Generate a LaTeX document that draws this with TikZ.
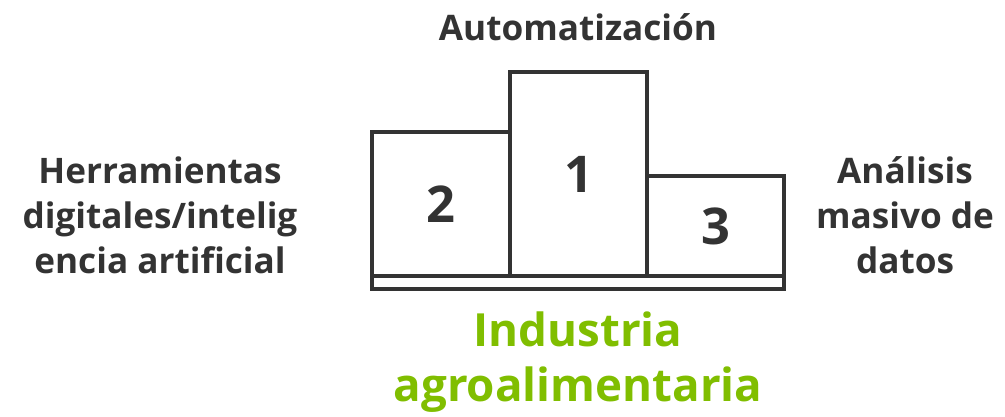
\documentclass[tikz,border=0pt]{standalone}
\usepackage{fontspec}
\setmainfont{Open Sans}
\usepackage{tikz}
\usetikzlibrary{positioning}
\definecolor{ink}{HTML}{333333}
\definecolor{leaf}{HTML}{80BE00}

\begin{document}
\begin{tikzpicture}[x=0.025cm, y=-0.025cm, line width=2.5pt,
    stepbox/.style={draw=ink, rectangle, inner sep=0pt, font=\fontsize{36}{36}\selectfont\bfseries, text=ink},
    caption/.style={align=center, text=ink, font=\fontsize{25}{32}\selectfont\bfseries},
    title/.style={align=center, text=leaf, font=\fontsize{32.5}{39}\selectfont\bfseries}]

    \useasboundingbox (0,0) rectangle (1005,416);

    \node[stepbox, minimum width=3.45cm, minimum height=3.6cm] (second) at (441,204) {2};
    \node[stepbox, minimum width=3.425cm, minimum height=5.1cm] (first) at (578.5,174) {1};
    \node[stepbox, minimum width=3.425cm, minimum height=2.5cm] (third) at (715.5,226) {3};
    \node[stepbox, minimum width=10.3cm, minimum height=0.325cm] (base) at (578,282.5) {};

    \node[caption] (top) at (578,27) {Automatización};
    \node[caption] (left) at (160,215) {Herramientas\\digitales/intelig\\encia artificial};
    \node[caption] (right) at (905,215) {Análisis\\masivo de\\datos};
    \node[title] (sector) at (578,362) {Industria\\agroalimentaria};

\end{tikzpicture}
\end{document}
